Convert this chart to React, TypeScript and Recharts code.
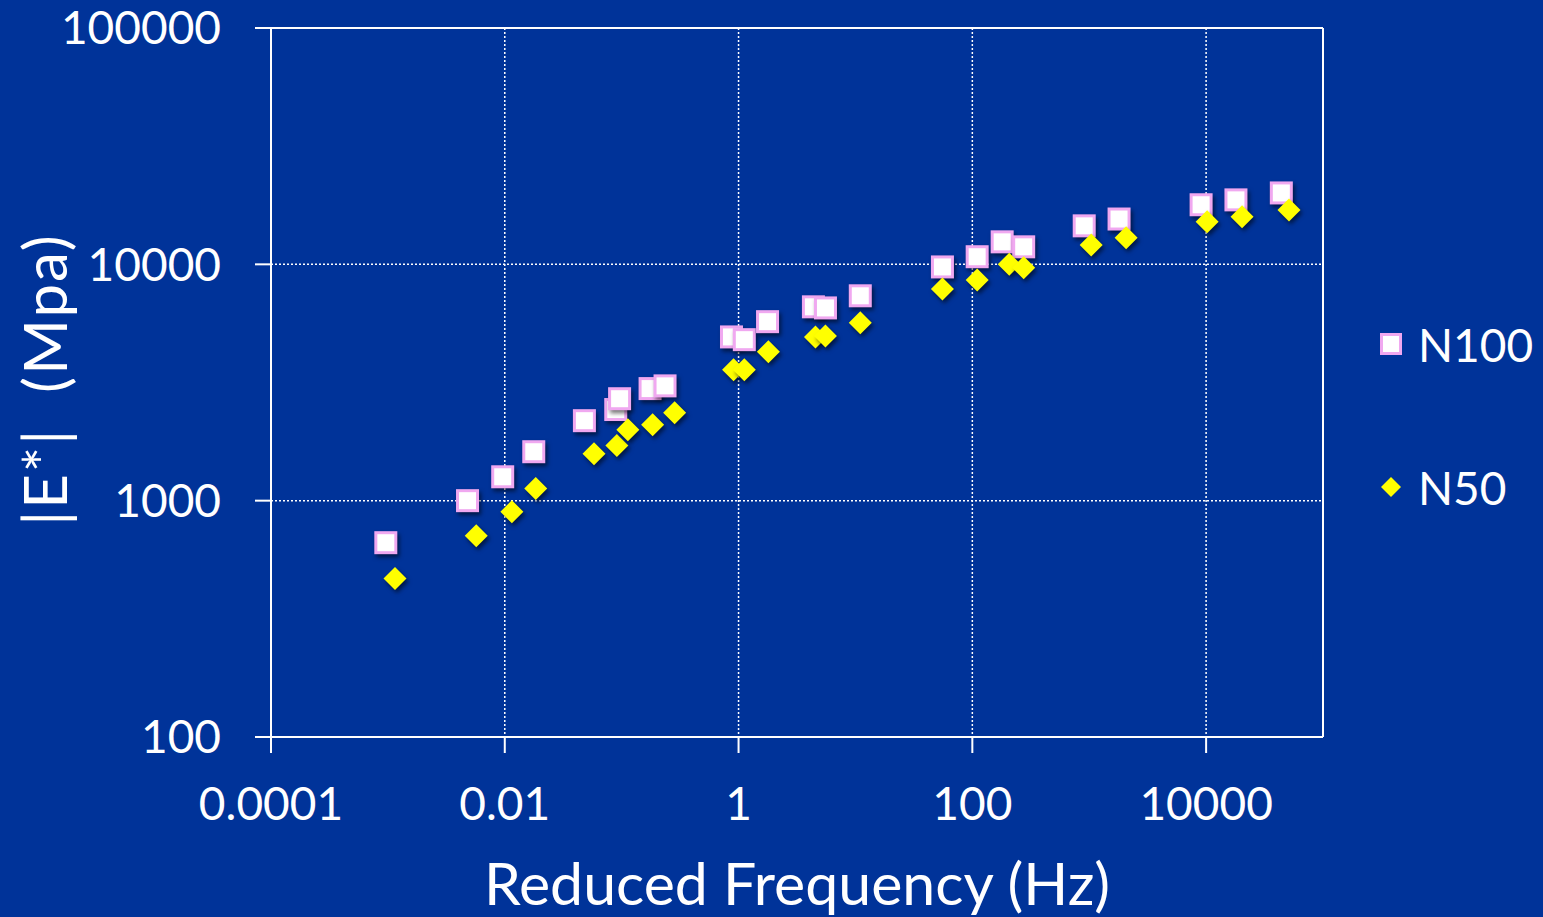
import {
  ScatterChart,
  Scatter,
  XAxis,
  YAxis,
  CartesianGrid,
  Legend,
  ReferenceLine,
} from "recharts";

const FONT = "Lato, 'Open Sans', sans-serif";
const BG = "#003399";

const xTicks = [0.0001, 0.01, 1, 100, 10000];
const yTicks = [100, 1000, 10000, 100000];

// N100 (squares)
const n100Freq = [
  0.00096, 0.0048, 0.0096, 0.0177, 0.048, 0.089, 0.096, 0.175, 0.235, 0.87, 1.12, 1.77,
  4.37, 5.54, 11, 55.5, 110, 180, 275, 906, 1800, 9060, 18000, 44000,
];
const n100Mod = [
  664, 1000, 1262, 1611, 2180, 2430, 2700, 2980, 3060, 4930, 4800, 5720, 6610, 6540, 7360,
  9750, 10770, 12450, 11860, 14550, 15550, 17870, 18740, 20050,
];

// N50 (diamonds)
const n50Freq = [
  0.00115, 0.0057, 0.0115, 0.0184, 0.058, 0.091, 0.113, 0.184, 0.284, 0.906, 1.12, 1.8,
  4.55, 5.54, 11, 55.5, 110, 207, 275, 1040, 2070, 10200, 20300, 51200,
];
const n50Mod = [
  468, 711, 898, 1125, 1581, 1710, 1996, 2095, 2355, 3581, 3581, 4268, 4930, 4980, 5660,
  7870, 8590, 10000, 9665, 12080, 12950, 15130, 15880, 16990,
];

const n100 = n100Freq.map((f, i) => ({ f, e: n100Mod[i] }));
const n50 = n50Freq.map((f, i) => ({ f, e: n50Mod[i] }));

const shadow = "drop-shadow(2px 3px 2px rgba(0,0,0,0.55))";

const SquareMark = (props: any) => {
  const { cx, cy } = props;
  return (
    <rect
      x={cx - 10}
      y={cy - 10}
      width={20}
      height={20}
      fill="#ffffff"
      stroke="#f0a8f0"
      strokeWidth={3}
      style={{ filter: shadow }}
    />
  );
};

const DiamondMark = (props: any) => {
  const { cx, cy } = props;
  const r = 11.5;
  return (
    <polygon
      points={`${cx},${cy - r} ${cx + r},${cy} ${cx},${cy + r} ${cx - r},${cy}`}
      fill="#ffff00"
      style={{ filter: shadow }}
    />
  );
};

const series = [
  { name: "N100", data: n100, shape: SquareMark },
  { name: "N50", data: n50, shape: DiamondMark },
];

const renderLegend = () => (
  <div style={{ fontFamily: FONT, color: "#fff" }}>
    {series.map((s, i) => (
      <div
        key={s.name}
        style={{
          display: "flex",
          alignItems: "center",
          height: 60,
          marginBottom: i === 0 ? 83 : 0,
        }}
      >
        <svg width={30} height={30} style={{ marginRight: 12 }}>
          {i === 0 ? (
            <rect x={5.5} y={5.5} width={19} height={19} fill="#fff" stroke="#f0a8f0" strokeWidth={3} />
          ) : (
            <polygon points="15,5 25,15 15,25 5,15" fill="#ffff00" />
          )}
        </svg>
        <span style={{ fontSize: 46 }}>{s.name}</span>
      </div>
    ))}
  </div>
);

const YTitle = (props: any) => {
  const { viewBox } = props;
  const cx = viewBox.x + 44;
  const cy = viewBox.y + viewBox.height / 2 - 3;
  return (
    <text
      x={cx}
      y={cy}
      transform={`rotate(-90 ${cx} ${cy})`}
      textAnchor="middle"
      dominantBaseline="central"
      fill="#fff"
      fontSize={60}
      letterSpacing={2}
      fontFamily={FONT}
    >
      {"|E*| \u00a0(Mpa)"}
    </text>
  );
};

export default function App() {
  return (
    <div style={{ position: "absolute", left: 0, top: 0, width: 1543, height: 917, background: BG }}>
      <ScatterChart
        width={1543}
        height={917}
        margin={{ top: 28, right: 220, left: 0, bottom: 0 }}
        style={{ fontFamily: FONT }}
      >
        <CartesianGrid
          stroke="#ffffff"
          strokeDasharray="2 2"
          strokeWidth={1.5}
          verticalValues={xTicks}
          horizontalValues={yTicks}
        />
        <XAxis
          type="number"
          dataKey="f"
          scale="log"
          domain={[0.0001, 100000]}
          ticks={xTicks}
          allowDataOverflow
          height={180}
          stroke="#ffffff"
          strokeWidth={2}
          tickSize={16}
          tickMargin={34}
          tick={{ fill: "#ffffff", fontSize: 46, fontFamily: FONT }}
          tickFormatter={(v: number) => String(v)}
          label={{
            value: "Reduced Frequency (Hz)",
            position: "insideBottom",
            offset: 12,
            fill: "#ffffff",
            fontSize: 59,
            fontFamily: FONT,
          }}
        />
        <YAxis
          type="number"
          dataKey="e"
          scale="log"
          domain={[100, 100000]}
          ticks={yTicks}
          allowDataOverflow
          width={271}
          stroke="#ffffff"
          strokeWidth={2}
          tickSize={16}
          tickMargin={34}
          tick={{ fill: "#ffffff", fontSize: 46, fontFamily: FONT }}
          tickFormatter={(v: number) => String(v)}
          label={<YTitle />}
        />
        <ReferenceLine y={100000} stroke="#ffffff" strokeWidth={2} />
        <ReferenceLine x={100000} stroke="#ffffff" strokeWidth={2} />
        <Legend
          layout="vertical"
          align="center"
          verticalAlign="middle"
          content={renderLegend}
          wrapperStyle={{ left: 1376, top: 314, width: 167 }}
        />
        {series.map((s) => (
          <Scatter
            key={s.name}
            name={s.name}
            data={s.data}
            shape={s.shape}
            isAnimationActive={false}
          />
        ))}
      </ScatterChart>
    </div>
  );
}
